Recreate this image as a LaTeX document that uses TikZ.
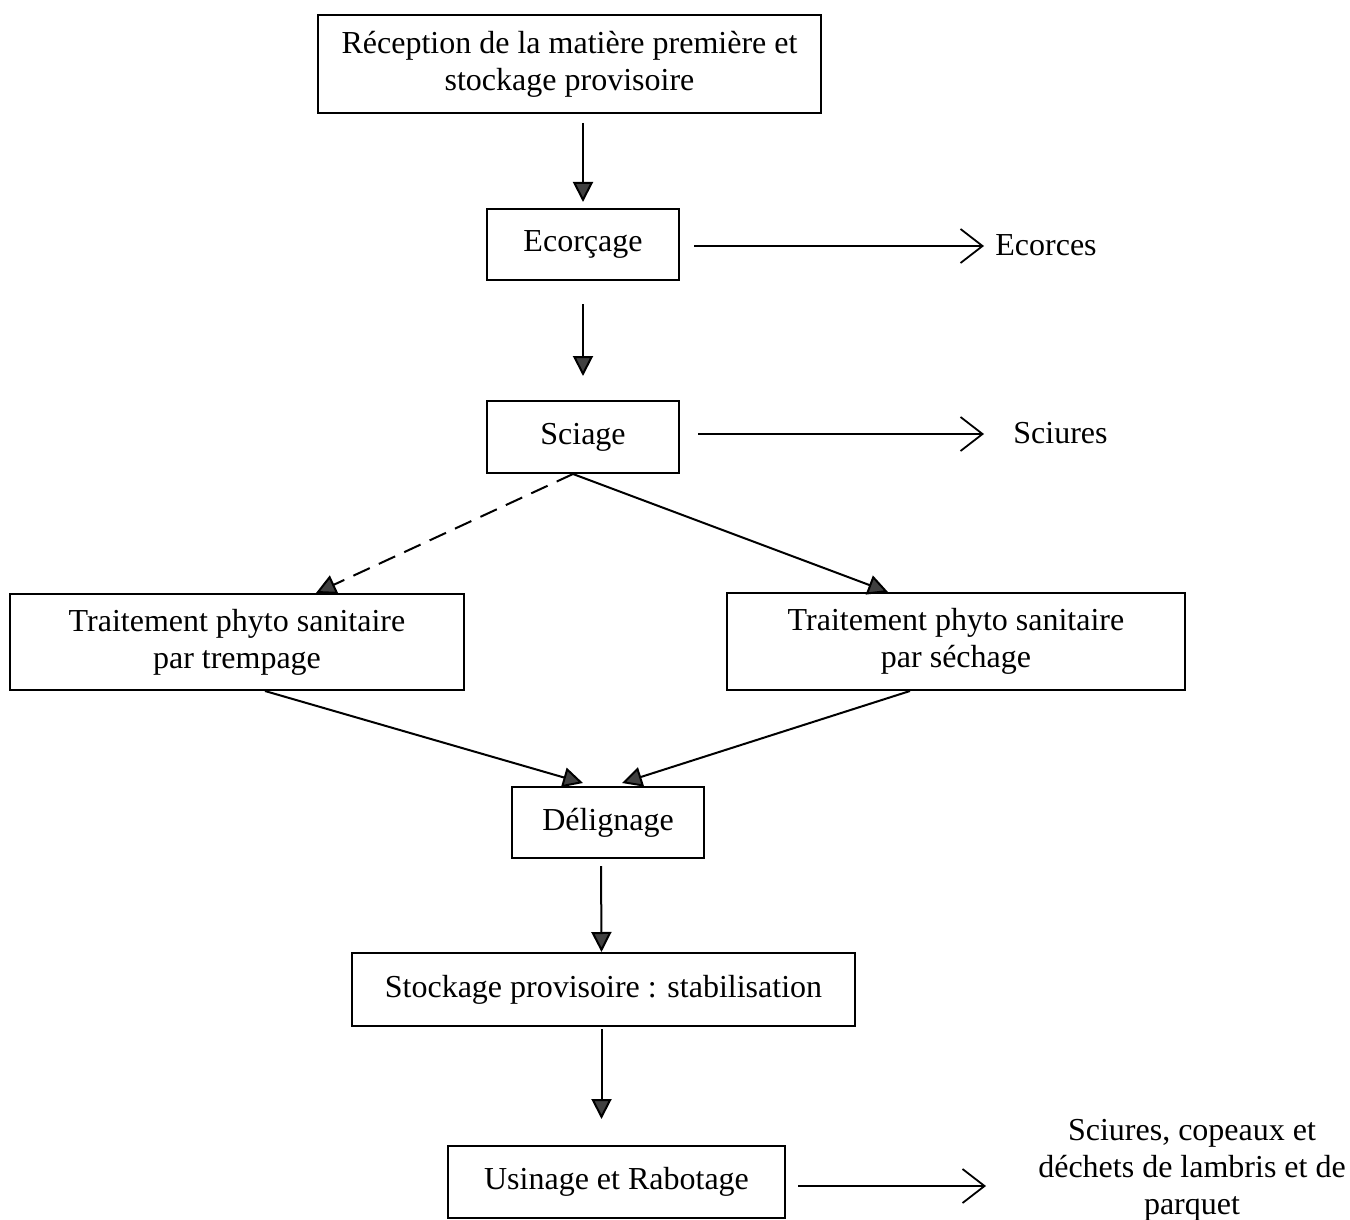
\documentclass[tikz,border=0pt]{standalone}
\usepackage{fontspec}
\setmainfont{Liberation Serif}
\usetikzlibrary{arrows.meta,calc}
\definecolor{tipgray}{HTML}{404040}
\begin{document}
\begin{tikzpicture}[x=0.5pt,y=-0.5pt,
  box/.style={draw, line width=1pt, inner sep=0pt, align=center, font=\fontsize{16}{18.5}\selectfont},
  lbl/.style={inner sep=0pt, align=center, font=\fontsize{16}{18.5}\selectfont},
  flow/.style={line width=1pt, -{Triangle[length=10pt,width=10pt,fill=tipgray]}},
  waste/.style={line width=0.9pt, -{Straight Barb[length=11pt,width=17pt,line width=0.9pt]}},
  dashline/.style={flow, dash pattern=on 9pt off 5pt}]
\useasboundingbox (0,0) rectangle (1350,1220);
\fill[white] (0,0) rectangle (1350,1220);

\node[box, minimum width=251.5pt, minimum height=49pt] (r) at (569.5,64) {Réception de la matière première et\\stockage provisoire};
\node[box, minimum width=96pt, minimum height=35.5pt] (e) at (583,244.5) {Ecorçage};
\node[box, minimum width=96pt, minimum height=36pt] (s) at (583,437) {Sciage};
\node[box, minimum width=227pt, minimum height=48pt] (L) at (237,642) {Traitement phyto sanitaire\\par trempage};
\node[box, minimum width=229pt, minimum height=48.5pt] (R) at (956,641.5) {Traitement phyto sanitaire\\par séchage};
\node[box, minimum width=96pt, minimum height=35.5pt] (d) at (608,822.5) {Délignage};
\node[box, minimum width=251.5pt, minimum height=36.5pt] (st) at (603.5,989.5) {Stockage provisoire : stabilisation};
\node[box, minimum width=168.5pt, minimum height=36pt] (u) at (616.5,1182) {Usinage et Rabotage};

\node[lbl, anchor=west] (ec) at (995,245) {Ecorces};
\node[lbl, anchor=west] (sc) at (1013,433) {Sciures};
\node[lbl] (w) at (1192,1170) {Sciures, copeaux et\\déchets de lambris et de\\parquet};

% main flow
\draw[flow, shorten <=4.5pt, shorten >=3pt] (e.north |- r.south) -- (e.north);
\draw[flow, shorten <=11.5pt, shorten >=12pt] (e.south) -- (s.north);
\draw[dashline] ([xshift=-5pt]s.south) -- ([xshift=39.5pt]L.north);
\draw[flow] ([xshift=-5pt]s.south) -- ([xshift=-34pt]R.north);
\draw[flow] ([xshift=14pt]L.south) -- ([xshift=-12.5pt,yshift=1.5pt]d.north);
\draw[flow] ([xshift=-23pt]R.south) -- ([xshift=7pt,yshift=1.5pt]d.north);
\draw[flow, shorten <=3.5pt] ([xshift=-3.5pt]d.south) -- ([xshift=-1pt]st.north);
\draw[flow, shorten <=1pt, shorten >=13pt] ([xshift=-1pt]st.south) -- ([xshift=-7.5pt]u.north);

% waste outputs
\draw[waste] ([xshift=7pt,yshift=-0.75pt]e.east) -- ([xshift=152pt,yshift=-0.75pt]e.east);
\draw[waste] ([xshift=9pt,yshift=1.5pt]s.east) -- ([xshift=152pt,yshift=1.5pt]s.east);
\draw[waste] ([xshift=6pt,yshift=-2pt]u.east) -- ([xshift=100pt,yshift=-2pt]u.east);
\end{tikzpicture}
\end{document}
